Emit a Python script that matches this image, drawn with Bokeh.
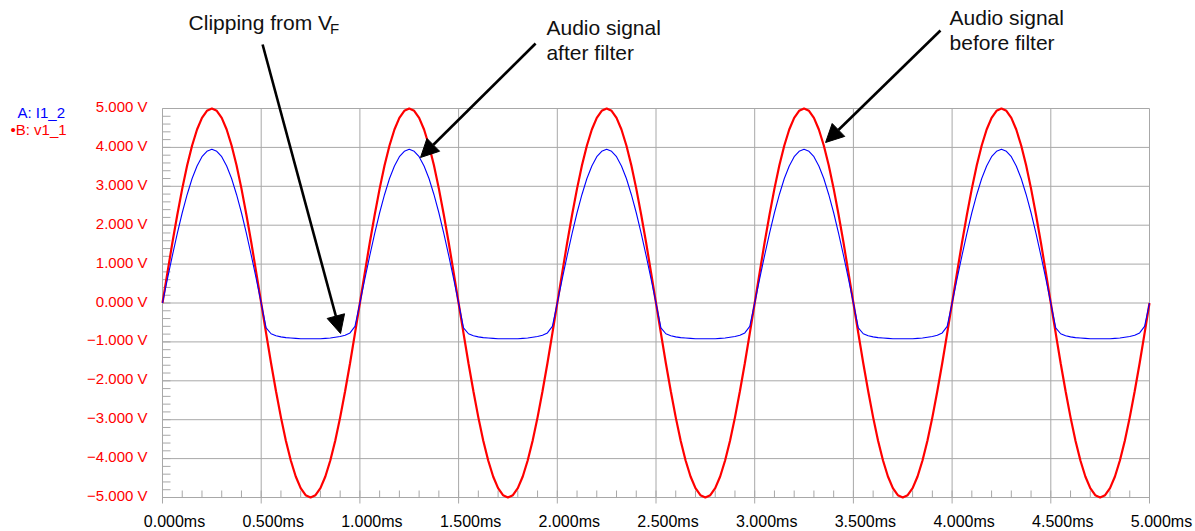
from bokeh.plotting import figure
from bokeh.models import Range1d, Label, Arrow, NormalHead, ColumnDataSource
from bokeh.core.properties import value
from bokeh.embed import file_html
from bokeh.resources import INLINE

# Simulation output, sampled every 0.025 ms over 0 .. 5 ms
sample_step_ms = 0.025
time_ms = [round(i * sample_step_ms, 3) for i in range(201)]

# B: v1_1 -- audio signal before filter (V)
v1_1 = [
    0.00, 0.78, 1.55, 2.27, 2.94, 3.54, 4.05, 4.46, 4.76, 4.94, 5.00, 4.94, 4.76, 4.46, 4.05, 3.54, 2.94, 2.27, 1.55, 0.78,
    0.00, -0.78, -1.55, -2.27, -2.94, -3.54, -4.05, -4.46, -4.76, -4.94, -5.00, -4.94, -4.76, -4.46, -4.05, -3.54, -2.94, -2.27, -1.55, -0.78,
    0.00, 0.78, 1.55, 2.27, 2.94, 3.54, 4.05, 4.46, 4.76, 4.94, 5.00, 4.94, 4.76, 4.46, 4.05, 3.54, 2.94, 2.27, 1.55, 0.78,
    0.00, -0.78, -1.55, -2.27, -2.94, -3.54, -4.05, -4.46, -4.76, -4.94, -5.00, -4.94, -4.76, -4.46, -4.05, -3.54, -2.94, -2.27, -1.55, -0.78,
    0.00, 0.78, 1.55, 2.27, 2.94, 3.54, 4.05, 4.46, 4.76, 4.94, 5.00, 4.94, 4.76, 4.46, 4.05, 3.54, 2.94, 2.27, 1.55, 0.78,
    0.00, -0.78, -1.55, -2.27, -2.94, -3.54, -4.05, -4.46, -4.76, -4.94, -5.00, -4.94, -4.76, -4.46, -4.05, -3.54, -2.94, -2.27, -1.55, -0.78,
    0.00, 0.78, 1.55, 2.27, 2.94, 3.54, 4.05, 4.46, 4.76, 4.94, 5.00, 4.94, 4.76, 4.46, 4.05, 3.54, 2.94, 2.27, 1.55, 0.78,
    0.00, -0.78, -1.55, -2.27, -2.94, -3.54, -4.05, -4.46, -4.76, -4.94, -5.00, -4.94, -4.76, -4.46, -4.05, -3.54, -2.94, -2.27, -1.55, -0.78,
    0.00, 0.78, 1.55, 2.27, 2.94, 3.54, 4.05, 4.46, 4.76, 4.94, 5.00, 4.94, 4.76, 4.46, 4.05, 3.54, 2.94, 2.27, 1.55, 0.78,
    0.00, -0.78, -1.55, -2.27, -2.94, -3.54, -4.05, -4.46, -4.76, -4.94, -5.00, -4.94, -4.76, -4.46, -4.05, -3.54, -2.94, -2.27, -1.55, -0.78,
    0.00,
]

# A: I1_2 -- audio signal after filter (V), clipped near -V_F on the negative half
i1_2 = [
    0.00, 0.62, 1.22, 1.79, 2.32, 2.79, 3.20, 3.52, 3.76, 3.90, 3.95, 3.90, 3.76, 3.52, 3.20, 2.79, 2.32, 1.79, 1.22, 0.62,
    0.00, -0.64, -0.79, -0.84, -0.87, -0.89, -0.90, -0.91, -0.92, -0.92, -0.92, -0.92, -0.92, -0.91, -0.90, -0.88, -0.86, -0.83, -0.77, -0.60,
    0.00, 0.62, 1.22, 1.79, 2.32, 2.79, 3.20, 3.52, 3.76, 3.90, 3.95, 3.90, 3.76, 3.52, 3.20, 2.79, 2.32, 1.79, 1.22, 0.62,
    0.00, -0.64, -0.79, -0.84, -0.87, -0.89, -0.90, -0.91, -0.92, -0.92, -0.92, -0.92, -0.92, -0.91, -0.90, -0.88, -0.86, -0.83, -0.77, -0.60,
    0.00, 0.62, 1.22, 1.79, 2.32, 2.79, 3.20, 3.52, 3.76, 3.90, 3.95, 3.90, 3.76, 3.52, 3.20, 2.79, 2.32, 1.79, 1.22, 0.62,
    0.00, -0.64, -0.79, -0.84, -0.87, -0.89, -0.90, -0.91, -0.92, -0.92, -0.92, -0.92, -0.92, -0.91, -0.90, -0.88, -0.86, -0.83, -0.77, -0.60,
    0.00, 0.62, 1.22, 1.79, 2.32, 2.79, 3.20, 3.52, 3.76, 3.90, 3.95, 3.90, 3.76, 3.52, 3.20, 2.79, 2.32, 1.79, 1.22, 0.62,
    0.00, -0.64, -0.79, -0.84, -0.87, -0.89, -0.90, -0.91, -0.92, -0.92, -0.92, -0.92, -0.92, -0.91, -0.90, -0.88, -0.86, -0.83, -0.77, -0.60,
    0.00, 0.62, 1.22, 1.79, 2.32, 2.79, 3.20, 3.52, 3.76, 3.90, 3.95, 3.90, 3.76, 3.52, 3.20, 2.79, 2.32, 1.79, 1.22, 0.62,
    0.00, -0.64, -0.79, -0.84, -0.87, -0.89, -0.90, -0.91, -0.92, -0.92, -0.92, -0.92, -0.92, -0.91, -0.90, -0.88, -0.86, -0.83, -0.77, -0.60,
    0.00,
]

x_ticks = [0.0, 0.5, 1.0, 1.5, 2.0, 2.5, 3.0, 3.5, 4.0, 4.5, 5.0]
x_tick_labels = ["0.000ms", "0.500ms", "1.000ms", "1.500ms", "2.000ms", "2.500ms",
                 "3.000ms", "3.500ms", "4.000ms", "4.500ms", "5.000ms"]
x_minor = [round(i * 0.1, 1) for i in range(51)]
y_ticks = [-5, -4, -3, -2, -1, 0, 1, 2, 3, 4, 5]
y_tick_labels = ["\u22125.000 V", "\u22124.000 V", "\u22123.000 V", "\u22122.000 V", "\u22121.000 V",
                 "0.000 V", "1.000 V", "2.000 V", "3.000 V", "4.000 V", "5.000 V"]
y_minor = [round(-5 + i * 0.2, 1) for i in range(51)]

X_MIN, X_MAX = 0.0, 5.0
Y_MIN, Y_MAX = -5.0, 5.0

FONT = "Liberation Sans"
GRID = "#a8a8a8"

W, H = 1195, 531
# canvas margins around the scope window (px)
M_LEFT, M_RIGHT, M_TOP, M_BOTTOM = 162, 46, 108, 34
px_per_ms = (W - M_LEFT - M_RIGHT) / (X_MAX - X_MIN)
px_per_v = (H - M_TOP - M_BOTTOM) / (Y_MAX - Y_MIN)

# The plotting frame covers the whole canvas so that the captions and
# arrows above the scope window are not cut off.
p = figure(width=W, height=H, output_backend="svg", toolbar_location=None,
           x_axis_location=None, y_axis_location=None,
           x_range=Range1d(X_MIN - M_LEFT / px_per_ms, X_MAX + M_RIGHT / px_per_ms),
           y_range=Range1d(Y_MIN - M_BOTTOM / px_per_v, Y_MAX + M_TOP / px_per_v),
           min_border=0)
p.background_fill_color = "white"
p.border_fill_color = "white"
p.outline_line_color = None
p.grid.visible = False

# scope grid: vertical lines run a few px past the bottom edge as major ticks
tick_out = 6 / px_per_v
p.segment(x0=x_ticks, x1=x_ticks, y0=[Y_MIN - tick_out] * len(x_ticks), y1=[Y_MAX] * len(x_ticks),
          line_color=GRID, line_width=1)
p.segment(x0=[X_MIN] * len(y_ticks), x1=[X_MAX] * len(y_ticks), y0=y_ticks, y1=y_ticks,
          line_color=GRID, line_width=1)

# minor ticks pointing into the window
xm_len = 7 / px_per_v
ym_len = 8 / px_per_ms
p.segment(x0=x_minor, x1=x_minor, y0=[Y_MIN] * len(x_minor), y1=[Y_MIN + xm_len] * len(x_minor),
          line_color=GRID, line_width=1)
p.segment(x0=[X_MIN] * len(y_minor), x1=[X_MIN + ym_len] * len(y_minor), y0=y_minor, y1=y_minor,
          line_color=GRID, line_width=1)

# tick labels
p.text(x=x_ticks, y=[Y_MIN] * len(x_ticks), text=x_tick_labels,
       text_font=value(FONT), text_font_size="16px", text_color="black",
       text_align="center", text_baseline="middle", x_offset=12, y_offset=24)
p.text(x=[X_MIN] * len(y_ticks), y=y_ticks, text=y_tick_labels,
       text_font=value(FONT), text_font_size="15px", text_color="#ff0000",
       text_align="right", text_baseline="middle", x_offset=-15, y_offset=-2)

# traces
src = ColumnDataSource(dict(t=time_ms, b=v1_1, a=i1_2))
p.line("t", "b", source=src, line_color="#ff0000", line_width=2.2)
p.line("t", "a", source=src, line_color="#0000ff", line_width=1.1)

# trace legend, left of the value scale
p.text(x=[X_MIN, X_MIN], y=[Y_MAX, Y_MAX], text=["A: I1_2", "\u2022B: v1_1"],
       text_font=value(FONT), text_font_size="15px", text_color=["#0000ff", "#ff0000"],
       text_align="left", text_baseline="middle",
       x_offset=[-145, -152], y_offset=[4, 21])


def caption(x_ms, y_v, text, size="21px"):
    p.add_layout(Label(x=x_ms, y=y_v, text=text, text_color="#111111", text_font=FONT,
                       text_font_size=size, text_baseline="alphabetic"))


caption(0.132, 7.20, "Clipping from V")
caption(0.848, 7.06, "F", "15px")
caption(1.945, 7.08, "Audio signal")
caption(1.945, 6.44, "after filter")
caption(3.987, 7.34, "Audio signal")
caption(3.987, 6.70, "before filter")


def arrow(x0, y0, x1, y1):
    p.add_layout(Arrow(x_start=x0, y_start=y0, x_end=x1, y_end=y1,
                       line_color="black", line_width=2.6,
                       end=NormalHead(size=18, fill_color="black", line_color="black")))


arrow(0.507, 6.645, 0.902, -0.784)
arrow(1.890, 6.671, 1.307, 3.740)
arrow(3.941, 7.005, 3.359, 4.126)

open("out.html", "w").write(file_html(p, INLINE))
